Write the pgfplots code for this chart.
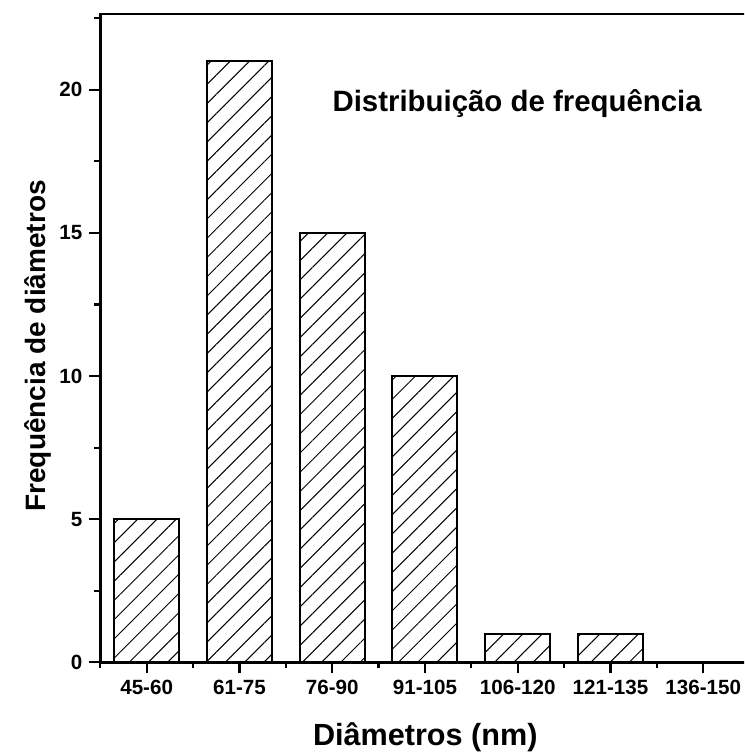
\documentclass[border=0pt]{standalone}
\usepackage{pgfplots}
\pgfplotsset{compat=1.18}
\usepackage{fontspec}
\setmainfont{Liberation Sans}
\usetikzlibrary{patterns.meta}

\begin{document}
\begin{tikzpicture}
\useasboundingbox (0,0) rectangle (372pt,376.5pt);
\clip (0,0) rectangle (372pt,376.5pt);
\begin{axis}[
  at={(50.15pt,45.35pt)}, anchor=south west,
  scale only axis, width=324.65pt, height=324.15pt,
  xmin=-0.5, xmax=6.5, ymin=0, ymax=22.65,
  xtick={0,...,6},
  xticklabels={45-60,61-75,76-90,91-105,106-120,121-135,136-150},
  minor xtick={-0.5,0.5,...,6.5},
  ytick={0,5,10,15,20},
  minor ytick={2.5,7.5,...,22.5},
  tick pos=left,
  tick align=outside,
  major tick length=5.5pt, minor tick length=3pt,
  axis line style={line width=1.25pt},
  every tick/.style={black, line width=1.1pt},
  /pgf/number format/assume math mode=true,
  ticklabel style={font=\fontsize{10.3}{12}\selectfont\bfseries},
  xlabel={Diâmetros (nm)},
  ylabel={Frequência de diâmetros},
  xlabel style={at={(axis description cs:0.5005,-0.1276)}, anchor=base, font=\fontsize{15.3}{18}\selectfont\bfseries},
  ylabel style={at={(axis description cs:-0.0847,0.488)}, anchor=base, font=\fontsize{14}{17}\selectfont\bfseries},
  ybar, bar width=0.7,
]
\addplot[draw=black, line width=1pt, pattern={Lines[angle=45,distance=6.8pt,line width=0.5pt]}, pattern color=black]
  coordinates {(0,5) (1,21) (2,15) (3,10) (4,1) (5,1) (6,0)};
\node[anchor=base, font=\fontsize{14.7}{17}\selectfont\bfseries] at (axis description cs:0.642,0.849) {Distribuição de frequência};
\end{axis}
\end{tikzpicture}
\end{document}
